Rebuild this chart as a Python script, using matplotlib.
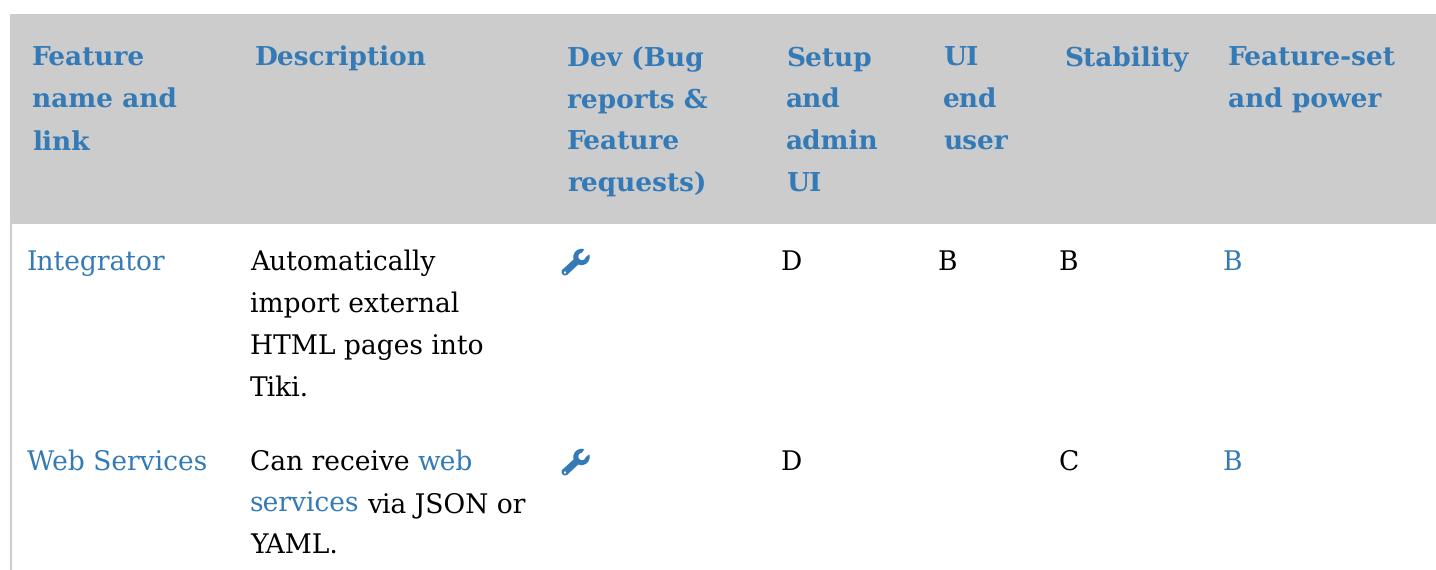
import matplotlib
matplotlib.use('Agg')
import matplotlib.pyplot as plt
from matplotlib.patches import Rectangle, Circle, Polygon

W, H = 1436, 570
LINK = '#337ab7'
plt.rcParams['font.family'] = ['DejaVu Serif']
plt.rcParams['text.hinting'] = 'no_hinting'

# table content
headers = [
    ['Feature', 'name and', 'link'],
    ['Description'],
    ['Dev (Bug', 'reports &', 'Feature', 'requests)'],
    ['Setup', 'and', 'admin', 'UI'],
    ['UI', 'end', 'user'],
    ['Stability'],
    ['Feature-set', 'and power'],
]
header_x = [32, 255, 567, 786, 943, 1064, 1228]
cell_x = [27, 250, 562, 781, 938, 1059, 1223]

row1_name = 'Integrator'
row1_desc = ['Automatically', 'import external', 'HTML pages into', 'Tiki.']
row1_grades = ['D', 'B', 'B', 'B']
row2_name = 'Web Services'
row2_grades = ['D', '', 'C', 'B']

fig = plt.figure(figsize=(W / 100, H / 100), dpi=100)
ax = fig.add_axes([0, 0, 1, 1])
ax.set_xlim(0, W)
ax.set_ylim(H, 0)
ax.axis('off')

ax.add_patch(Rectangle((10, 14), W - 10, 210, facecolor='#cccccc', edgecolor='none'))
ax.plot([11, 11], [224, H], color='#cccccc', lw=1.5)

fs = 19.1
fs_bold = 19.0

for x, lines in zip(header_x, headers):
    for i, s in enumerate(lines):
        ax.text(x, 66 + i * 42, s, color=LINK, fontsize=fs_bold, fontweight='bold', va='baseline')


def wrench(x, y):
    # icon is 28 px wide, x and y are its top left corner
    ax.add_patch(Polygon([(x + 0, y + 21), (x + 5, y + 26), (x + 18, y + 14), (x + 13, y + 9)],
                         facecolor=LINK, edgecolor='none'))
    ax.add_patch(Circle((x + 3, y + 23), 3.4, facecolor=LINK, edgecolor='none'))
    ax.add_patch(Circle((x + 3, y + 23.5), 1.1, facecolor='white', edgecolor='none'))
    ax.add_patch(Circle((x + 19.5, y + 8), 8.2, facecolor=LINK, edgecolor='none'))
    # open jaw of the spanner
    ax.add_patch(Circle((x + 20, y + 7.5), 3.6, facecolor='white', edgecolor='none'))
    ax.add_patch(Polygon([(x + 19, y + 5), (x + 22.5, y + 9), (x + 29, y + 4), (x + 24, y - 2)],
                         facecolor='white', edgecolor='none'))


def grades(y, vals):
    ax.text(cell_x[3], y, vals[0], color='black', fontsize=fs, va='baseline')
    ax.text(cell_x[4], y, vals[1], color='black', fontsize=fs, va='baseline')
    ax.text(cell_x[5], y, vals[2], color='black', fontsize=fs, va='baseline')
    ax.text(cell_x[6], y, vals[3], color=LINK, fontsize=fs, va='baseline')


# first row
ax.text(cell_x[0], 270, row1_name, color=LINK, fontsize=fs, va='baseline')
for i, s in enumerate(row1_desc):
    ax.text(cell_x[1], 270 + i * 42, s, color='black', fontsize=fs, va='baseline')
wrench(cell_x[2], 249)
grades(270, row1_grades)

# second row
ax.text(cell_x[0], 470, row2_name, color=LINK, fontsize=fs, va='baseline')
ax.text(cell_x[1], 470, 'Can receive', color='black', fontsize=fs, va='baseline')
ax.text(418, 470, 'web', color=LINK, fontsize=fs, va='baseline')
ax.text(cell_x[1], 512, 'services', color=LINK, fontsize=fs, va='baseline')
ax.text(367, 512, 'via JSON or', color='black', fontsize=fs, va='baseline')
ax.text(cell_x[1], 554, 'YAML.', color='black', fontsize=fs, va='baseline')
wrench(cell_x[2], 449)
grades(470, row2_grades)

fig.savefig('out.png', dpi=100, facecolor='white')
